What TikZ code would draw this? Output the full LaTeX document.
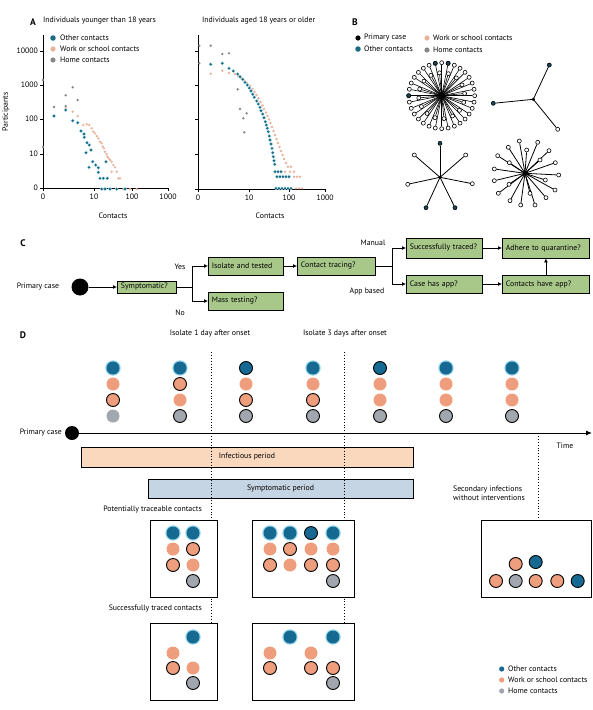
\documentclass[tikz,border=0pt]{standalone}
\usepackage{fontspec}
\setmainfont{PT Sans}
\usetikzlibrary{arrows.meta}
\definecolor{otherc}{RGB}{22,106,146}
\definecolor{glowc}{RGB}{150,214,236}
\definecolor{workc}{RGB}{238,158,124}
\definecolor{homec}{RGB}{162,167,175}
\definecolor{boxgreen}{RGB}{168,200,138}
\definecolor{infectc}{RGB}{250,216,190}
\definecolor{symptc}{RGB}{198,213,228}
\definecolor{sothc}{RGB}{30,105,125}
\definecolor{sworkc}{RGB}{232,178,155}
\definecolor{shomec}{RGB}{135,135,135}
\def\contact[#1](#2){\path[#1] (#2) circle (6.5pt);}
\def\legdot[#1](#2){\fill[#1] (#2) circle (2.6pt);}

\begin{document}
\begin{tikzpicture}[x=1pt, y=-1pt, font=\fontsize{7.8}{9}\selectfont,
	lbl/.style={inner sep=0pt},
	panel/.style={inner sep=0pt, font=\fontsize{9.5}{10}\selectfont\bfseries},
	stage/.style={draw, fill=boxgreen, line width=0.8pt, anchor=west, inner xsep=3.5pt, inner ysep=0pt, minimum height=18pt, align=left, text width=#1},
	flow/.style={-{Latex[length=4pt,width=4pt]}, line width=0.8pt},
	bigdot/.style={circle, fill=black, inner sep=0pt},
	spoke/.style={line width=0.8pt},
	leaf/.style={circle, draw, fill=white, inner sep=0pt, minimum size=4pt, line width=0.6pt},
	leafdark/.style={leaf, fill=sothc!70!black},
	otherdot/.style={fill=otherc, preaction={draw=glowc, line width=2.4pt}},
	otherring/.style={fill=otherc, draw=black, line width=0.9pt},
	workdot/.style={fill=workc},
	workring/.style={fill=workc, draw=black, line width=0.9pt},
	homedot/.style={fill=homec},
	homering/.style={fill=homec, draw=black, line width=0.9pt},
	sother/.style={fill=sothc, preaction={draw=glowc!80, line width=1pt}}]
	%%%%% START %%%%%
	\useasboundingbox[fill=white] (0,0) rectangle (593,710);
	
	%%%%% A %%%%%
	\node[panel] at (33,22) {A};
	\node[lbl, anchor=west] at (43,21) {Individuals younger than 18 years};
	\node[lbl, anchor=west] at (202,21) {Individuals aged 18 years or older};
	\node[lbl, rotate=90] at (6,112) {Participants};
	
	\draw[line width=0.8pt] (43,35) -- (43,188) -- (168,188);
	\foreach \y/\t in {51/10000,85/1000,119/100,154/10,188/0} {
		\draw[line width=0.8pt] (43,\y) -- (40,\y);
		\node[lbl, anchor=east] at (38,\y) {\t};
	}
	\foreach \x/\t in {43/0,94/10,132/100,168/1000} {
		\draw[line width=0.8pt] (\x,188) -- (\x,191);
		\node[lbl] at (\x,197) {\t};
	}
	\node[lbl] at (113,216) {Contacts};
	
	\draw[line width=0.8pt] (198,35) -- (198,189) -- (325,189);
	\foreach \y in {51,85,119,154,189} \draw[line width=0.8pt] (198,\y) -- (195,\y);
	\foreach \x/\t in {198/0,249/10,289/100,325/1000} {
		\draw[line width=0.8pt] (\x,189) -- (\x,192);
		\node[lbl] at (\x,198) {\t};
	}
	\node[lbl] at (270,216) {Contacts};
	
	% younger
	\foreach \p in {(65.7,108),(72.7,111.7),(77.7,116),(83.3,125),(86.7,124.3),(89.3,125),(91.7,128.3),(93.3,131.7),(95,133.3),(96.7,136),(98.3,138.3),(100,141.7),(101.7,143.3),(102.7,146.7),(104,148.3),(105,151.7),(106.7,154),(107.3,156.7),(108.7,158.3),(110,160),(111.7,161.7),(113.3,165),(115,167.3),(111.7,171.7),(116.7,171.7),(118.3,178.3),(120,178.3),(116.7,189),(123.3,189),(130,189),(136.7,189)}
		\fill[sworkc] \p circle (1.3pt);
	\foreach \p in {(54,116),(65.7,110),(72.7,120.7),(77.7,122.7),(81,131),(84,134),(84.3,137.3),(87,142.7),(89.3,145),(91,150),(86,152.7),(92.7,161.7),(89,167.3),(95.7,165),(98.3,167.7),(98.3,172.3),(100,178.3),(103.3,178.3),(107.3,178.3),(106,161.7),(101.7,189),(105,189),(110,189),(116.7,189),(125,189)}
		\path[sother] \p circle (1.3pt);
	\foreach \p in {(43,80),(43,147),(54,107),(65.7,95.3),(65.7,106),(72.7,87.3),(77.7,100)}
		\fill[shomec] \p circle (1.3pt);
	
	% older
	\foreach \p in {(210.7,73.7),(222.3,70.7),(229,73),(235,74),(238,76),(241,78),(244,80.5),(247,83),(250,86),(252.5,89),(254.5,92),(256.5,95),(258.5,98.5),(260.5,102),(262.5,105.5),(264,109),(266,112.5),(267.5,116),(269,119.5),(270.5,123),(272,127),(273.5,131),(275,135),(276.5,139),(278,143),(279.5,147),(281,151),(282.5,155),(284,159),(286,163),(288,166.7),(291,166.7),(285,171.7),(290,171.7),(294,171.7),(294,176.7),(297,176.7),(300,176.7),(296,188.3),(299,188.3),(302,188.3)}
		\fill[sworkc] \p circle (1.3pt);
	\foreach \p in {(210.7,64.3),(222.3,63.3),(229,68.3),(233.3,71),(237.7,74),(240,76.7),(242.7,79.3),(245,82.3),(247.3,85),(249.3,88),(251,91),(252.7,94.3),(254.3,97.3),(256.7,101),(258.3,104),(260,107.3),(261,110.7),(262.7,114),(264,117.7),(265.3,121.7),(266.3,125),(267.3,128.3),(268.3,131.7),(269.3,136),(270,140),(271,144),(272,148.3),(272.7,152.7),(273.3,156.7),(274,160.7),(274.7,164.3),(275,171.7),(278,171.7),(281,171.7),(277,176.7),(280,176.7),(283,176.7),(286,176.7),(289,176.7),(276,188.3),(279,188.3),(282,188.3),(285,188.3),(288,188.3),(291,188.3)}
		\path[sother] \p circle (1.3pt);
	\foreach \p in {(199.3,45.7),(210.7,45.7),(222.3,54),(229,53.3),(199.3,63.3),(237.7,89.3),(240,109),(246.7,113.3),(243.3,118.3),(244.3,132.3)}
		\fill[shomec] \p circle (1.3pt);
	
	% legend
	\path[sother] (53,38) circle (2.6pt);
	\legdot[sworkc](53,49)
	\legdot[shomec](53,60)
	\node[lbl, anchor=west] at (60,38) {Other contacts};
	\node[lbl, anchor=west] at (60,49) {Work or school contacts};
	\node[lbl, anchor=west] at (60,60) {Home contacts};
	
	%%%%% B %%%%%
	\node[panel] at (355,22) {B};
	\legdot[black](358,38)
	\path[sother] (358,49) circle (2.6pt);
	\legdot[sworkc](427,38)
	\legdot[shomec](427,50)
	\node[lbl, anchor=west] at (364,38) {Primary case};
	\node[lbl, anchor=west] at (364,49) {Other contacts};
	\node[lbl, anchor=west] at (433,38) {Work or school contacts};
	\node[lbl, anchor=west] at (433,50) {Home contacts};
	
	\coordinate (hubA) at (441.7,95.7);
	\foreach \a [count=\i] in {0,11.25,...,349} {
		\path (hubA) ++(\a:33pt) node[leaf] (sa\i) {};
		\draw[spoke, line width=0.6pt] (hubA) -- (sa\i);
	}
	\foreach \a [count=\i] in {5.6,28.1,...,349} {
		\path (hubA) ++(\a:23pt) node[leaf] (sb\i) {};
		\draw[spoke, line width=0.6pt] (hubA) -- (sb\i);
	}
	\foreach \a in {101.25,78.75,180} \path (hubA) ++(\a:33pt) node[leafdark] {};
	\fill (hubA) circle (2.5pt);
	
	\coordinate (hubB) at (533.3,99.3);
	\node[leafdark] (b1) at (549.3,65) {};
	\node[leafdark] (b2) at (493.3,103.3) {};
	\node[leaf] (b3) at (557.7,129.3) {};
	\foreach \n in {b1,b2,b3} \draw[spoke] (hubB) -- (\n);
	\fill (hubB) circle (1.8pt);
	
	\coordinate (hubC) at (440,177.3);
	\node[leafdark] (c1) at (440,143.3) {};
	\node[leaf] (c2) at (414.3,155) {};
	\node[leaf] (c3) at (465.7,155) {};
	\node[leaf] (c4) at (407.7,184.3) {};
	\node[leaf] (c5) at (472.3,183.7) {};
	\node[leafdark] (c6) at (426,207.7) {};
	\node[leafdark] (c7) at (455,207.7) {};
	\foreach \n in {c1,c2,c3,c4,c5,c6,c7} \draw[spoke] (hubC) -- (\n);
	\fill (hubC) circle (1.8pt);
	
	\coordinate (hubD) at (525,173.3);
	\foreach \p [count=\i] in {(519.3,141),(537.7,142.3),(508.3,147.3),(549,150.7),(497.7,155.7),(555.3,162.7),(494.3,169),(558.7,175),(494.3,180.7),(555,190),(498.3,193.3),(546,197.7),(510,200.7),(520.7,205),(535,205),(526.7,150),(540,160),(509.3,162.7),(545.3,180),(509,184.3),(530,193.3)} {
		\node[leaf] (d\i) at \p {};
		\draw[spoke] (hubD) -- (d\i);
	}
	\fill (hubD) circle (2.2pt);
	
	%%%%% C %%%%%
	\node[panel] at (23,243) {C};
	\node[lbl] at (38,287) {Primary case};
	\node[bigdot, minimum size=17pt] (pcC) at (80,287) {};
	\node[stage=52pt, minimum height=12pt] (sym) at (117,287) {Symptomatic?};
	\node[stage=68pt] (iso) at (208,266) {Isolate and tested};
	\node[stage=68pt] (mass) at (208,301) {Mass testing?};
	\node[stage=71pt] (trace) at (297,266) {Contact tracing?};
	\node[stage=69pt, minimum height=20pt] (succ) at (406,248) {Successfully traced?};
	\node[stage=69pt] (app) at (406,284) {Case has app?};
	\node[stage=80pt, minimum height=20pt] (adh) at (502,248) {Adhere to quarantine?};
	\node[stage=80pt] (capp) at (502,284) {Contacts have app?};
	
	\coordinate (symsplit) at (192,287);
	\coordinate (trsplit) at (392,266);
	\draw[flow] (pcC) -- (sym);
	\draw[line width=0.8pt] (sym) -- (symsplit);
	\draw[flow] (symsplit) |- (iso);
	\draw[flow] (symsplit) |- (mass);
	\draw[flow] (iso) -- (trace);
	\draw[line width=0.8pt] (trace) -- (trsplit);
	\draw[flow] (trsplit) |- (succ);
	\draw[flow] (trsplit) |- (app);
	\draw[flow] (succ) -- (adh);
	\draw[flow] (app) -- (capp);
	\draw[flow] (capp) -- (adh);
	
	\node[lbl] at (180,267) {Yes};
	\node[lbl] at (180,313) {No};
	\node[lbl] at (373,243) {Manual};
	\node[lbl] at (367,292) {App based};
	
	%%%%% D %%%%%
	\node[panel] at (23,335) {D};
	\node[lbl] at (210,334) {Isolate 1 day after onset};
	\node[lbl] at (345,334) {Isolate 3 days after onset};
	
	\foreach \x/\a/\b/\c/\d in {113/otherdot/workdot/workring/homedot, 180/otherdot/workring/workdot/homering, 246/otherring/workdot/workring/homering, 313/otherdot/workdot/workring/homering, 380/otherring/workdot/workdot/homering, 446/otherdot/workdot/workdot/homering, 512/otherdot/workdot/workdot/homering} {
		\contact[\a](\x,368)
		\contact[\b](\x,384)
		\contact[\c](\x,400)
		\contact[\d](\x,416)
	}
	
	\node[lbl, anchor=east] at (62,433) {Primary case};
	\node[bigdot, minimum size=14pt] (pcD) at (72,433) {};
	\coordinate (tend) at (592,433);
	\draw[line width=0.9pt, -{Latex[length=6pt,width=5pt]}] (pcD) -- (tend);
	\node[lbl] at (565,446) {Time};
	
	\draw[line width=0.8pt, fill=infectc] (81,447) rectangle (413,467);
	\node[lbl] at (247,457) {Infectious period};
	\draw[line width=0.8pt, fill=symptc] (148,479) rectangle (413,498);
	\node[lbl] at (280.5,489) {Symptomatic period};
	
	\draw[dotted, line width=0.9pt] (211,352) -- (211,623);
	\draw[dotted, line width=0.9pt] (344,352) -- (344,623);
	\draw[dotted, line width=0.9pt] (538,433) -- (538,520);
	\node[lbl, align=left, anchor=west] at (453,493) {Secondary infections\\without interventions};
	
	\node[lbl, anchor=east] at (202,510) {Potentially traceable contacts};
	\node[lbl, anchor=east] at (202,609) {Successfully traced contacts};
	
	\draw[line width=0.8pt, fill=white] (150,520) rectangle (217,597);
	\draw[line width=0.8pt, fill=white] (252,520) rectangle (354,597);
	\draw[line width=0.8pt, fill=white] (150,623) rectangle (217,700);
	\draw[line width=0.8pt, fill=white] (252,623) rectangle (354,700);
	\draw[line width=0.8pt, fill=white] (481,520) rectangle (591,597);
	
	% potentially traceable
	\contact[otherdot](173,533) \contact[otherdot](193,533)
	\contact[workdot](173,549) \contact[workring](193,549)
	\contact[workring](173,565) \contact[workdot](193,565)
	\contact[homering](193,581)
	
	\contact[otherdot](270,533) \contact[otherdot](290,533) \contact[otherring](311,533) \contact[otherdot](333,533)
	\contact[workdot](270,549) \contact[workring](290,549) \contact[workdot](311,549) \contact[workdot](333,549)
	\contact[workring](270,565) \contact[workdot](290,565) \contact[workring](311,565) \contact[workring](333,565)
	\contact[homering](333,581)
	
	% successfully traced
	\contact[otherdot](193,637)
	\contact[workdot](173,653)
	\contact[workring](173,668) \contact[workdot](193,668)
	\contact[homering](193,683)
	
	\contact[otherdot](290,637) \contact[otherdot](333,637)
	\contact[workdot](270,653) \contact[workdot](311,653)
	\contact[workring](270,668) \contact[workring](311,668) \contact[workring](333,668)
	\contact[homering](333,683)
	
	% without interventions
	\contact[workring](515.7,564) \contact[otherring](535.7,562)
	\contact[workring](496,581) \contact[homering](515.7,581) \contact[workring](535.7,581) \contact[workring](557.3,581) \contact[otherring](577.7,581)
	
	% legend
	\legdot[otherc](501.7,669)
	\legdot[workc](501.7,680)
	\legdot[homec](501.7,691)
	\node[lbl, anchor=west] at (508,669) {Other contacts};
	\node[lbl, anchor=west] at (508,680) {Work or school contacts};
	\node[lbl, anchor=west] at (508,691) {Home contacts};
	
	%%%%% END %%%%%
\end{tikzpicture}
\end{document}
